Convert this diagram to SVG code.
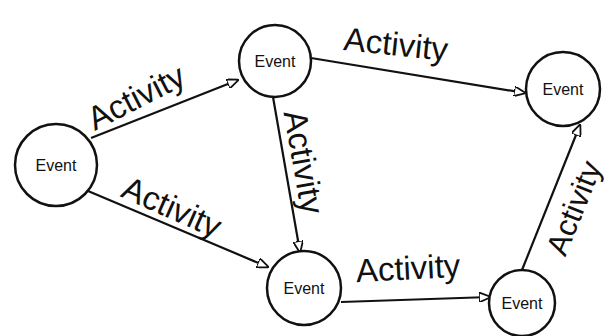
<svg xmlns="http://www.w3.org/2000/svg" width="610" height="336" viewBox="0 0 610 336">
<style>
.node{fill:#fff;stroke:#111;stroke-width:2.5}
.nt{font-family:"Liberation Sans",sans-serif;font-size:16px;fill:#111;text-anchor:middle;dominant-baseline:central}
.edge{stroke:#111;stroke-width:2.2;fill:none;marker-end:url(#arr)}
.lbl{font-family:"Liberation Sans",sans-serif;font-size:33px;fill:#111;text-anchor:middle;dominant-baseline:central}
</style>
<defs>
<marker id="arr" viewBox="0 0 12 10" refX="11" refY="5" markerWidth="12" markerHeight="10" markerUnits="userSpaceOnUse" orient="auto">
<path d="M0,0 L12,5 L0,10 z" fill="#fff" stroke="#111" stroke-width="1.8"/>
</marker>
</defs>
<rect width="610" height="336" fill="#fff"/>
<g id="connectors">
<line class="edge" x1="91" y1="138" x2="238" y2="80"/>
<line class="edge" x1="88" y1="191" x2="268" y2="267"/>
<line class="edge" x1="273" y1="97" x2="300" y2="252"/>
<line class="edge" x1="311" y1="58" x2="525" y2="93"/>
<line class="edge" x1="341" y1="302" x2="490" y2="297"/>
<line class="edge" x1="522" y1="270" x2="580" y2="125"/>
<text class="lbl" transform="translate(136,97) rotate(-27)">Activity</text>
<text class="lbl" transform="translate(172,207) rotate(24)">Activity</text>
<text class="lbl" transform="translate(396,44) rotate(6)">Activity</text>
<text class="lbl" transform="translate(304,162) rotate(80)">Activity</text>
<text class="lbl" transform="translate(408,268) rotate(-3)">Activity</text>
<text class="lbl" style="font-size:31px" transform="translate(574,208) rotate(-68)">Activity</text>
</g>
<g id="n1"><circle class="node" cx="56" cy="165" r="41"/><text class="nt" x="56" y="165">Event</text></g>
<g id="n2"><circle class="node" cx="275" cy="61" r="36"/><text class="nt" x="275" y="61">Event</text></g>
<g id="n3"><circle class="node" cx="563" cy="89" r="37"/><text class="nt" x="563" y="89">Event</text></g>
<g id="n4"><circle class="node" cx="304" cy="288" r="37"/><text class="nt" x="304" y="288">Event</text></g>
<g id="n5"><circle class="node" cx="522" cy="303" r="33"/><text class="nt" x="522" y="303">Event</text></g>
</svg>
